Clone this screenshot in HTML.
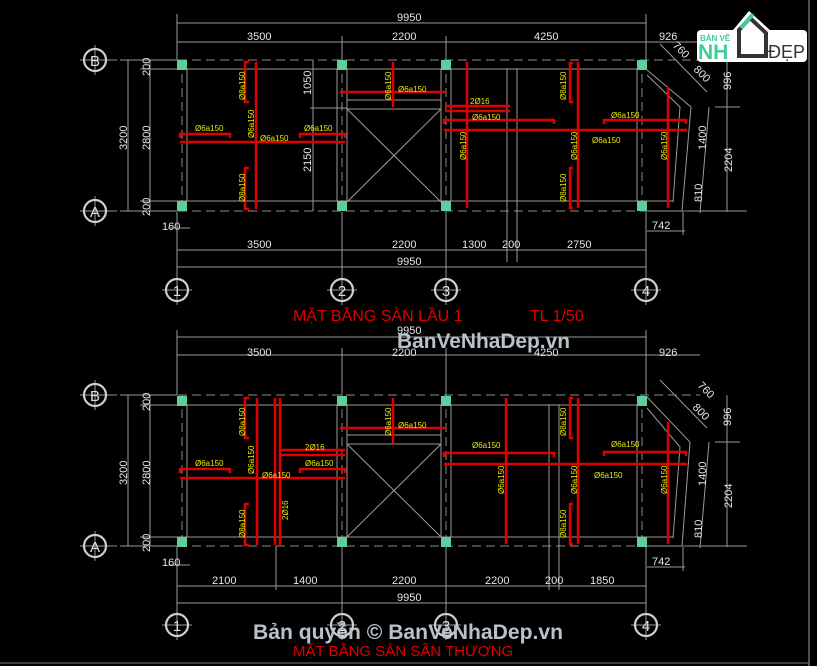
<!DOCTYPE html>
<html><head><meta charset="utf-8"><style>
html,body{margin:0;padding:0;background:#000;}
svg{display:block;}
text{font-family:"Liberation Sans",sans-serif;}
.d{fill:#e6e6e6;font-size:11px;}
.y{fill:#e8e800;font-size:8px;}
.g{stroke:#9a9a9a;stroke-width:1;fill:none;}
.dash{stroke:#8a8a8a;stroke-width:1;stroke-dasharray:9 5;fill:none;}
.r{stroke:#e00000;stroke-width:2.5;fill:none;}
.col{fill:#5ad19a;}
.c{fill:none;stroke:#cfcfcf;stroke-width:2.2;}
.ct{fill:#e0e0e0;font-size:15px;text-anchor:middle;}
</style></head><body>
<svg width="817" height="666" viewBox="0 0 817 666" xmlns="http://www.w3.org/2000/svg">
<rect width="817" height="666" fill="#000"/>
<line x1="809" y1="0" x2="809" y2="666" stroke="#9a9a9a"/>
<line x1="0" y1="663" x2="809" y2="663" stroke="#777"/>

<!-- ============ TOP PLAN ============ -->
<g id="top">
<g class="g">
<line x1="177" y1="23" x2="646" y2="23"/><line x1="177" y1="42" x2="700" y2="42"/>
<line x1="177" y1="14" x2="177" y2="60"/><line x1="342" y1="36" x2="342" y2="60"/>
<line x1="446" y1="36" x2="446" y2="60"/><line x1="646" y1="14" x2="646" y2="60"/>
<line x1="712" y1="36" x2="712" y2="48"/>
<line x1="660" y1="44" x2="707" y2="92"/>
</g>
<text class="d" x="397" y="21">9950</text>
<text class="d" x="247" y="40">3500</text><text class="d" x="392" y="40">2200</text>
<text class="d" x="534" y="40">4250</text><text class="d" x="659" y="40">926</text>
<text class="d" transform="translate(672,46) rotate(45)">760</text>
<text class="d" transform="translate(693,70) rotate(45)">800</text>
<line class="dash" x1="108" y1="60" x2="700" y2="60"/>
<line class="dash" x1="108" y1="211" x2="750" y2="211"/>
<line class="dash" x1="182" y1="60" x2="182" y2="211"/>
<line class="dash" x1="342" y1="60" x2="342" y2="211"/>
<line class="dash" x1="446" y1="60" x2="446" y2="211"/>
<line class="dash" x1="642" y1="60" x2="642" y2="211"/>
<g class="g">
<line x1="140" y1="69" x2="647" y2="69"/><line x1="140" y1="201" x2="673" y2="201"/>
<line x1="187" y1="69" x2="187" y2="201"/>
<line x1="337" y1="69" x2="337" y2="201"/><line x1="347" y1="69" x2="347" y2="201"/>
<line x1="441" y1="69" x2="441" y2="201"/><line x1="451" y1="69" x2="451" y2="201"/>
<line x1="637" y1="69" x2="637" y2="201"/>
<line x1="507" y1="69" x2="507" y2="262"/><line x1="517" y1="69" x2="517" y2="262"/>
<polyline points="647,70 691,107 682,211 647,211"/>
<polyline points="647,75 680,107 673,202"/>
<line x1="347" y1="100" x2="441" y2="100"/><line x1="347" y1="109" x2="441" y2="109"/>
<line x1="347" y1="109" x2="441" y2="202"/><line x1="441" y1="109" x2="347" y2="202"/>
<line x1="310" y1="108" x2="347" y2="108"/>
<line x1="313" y1="60" x2="313" y2="211"/>
</g>
<g class="g">
<line x1="128" y1="60" x2="128" y2="211"/><line x1="150" y1="60" x2="150" y2="211"/>
<line x1="120" y1="60" x2="177" y2="60"/><line x1="120" y1="211" x2="177" y2="211"/>
<line x1="140" y1="69" x2="180" y2="69"/><line x1="140" y1="201" x2="180" y2="201"/>
</g>
<text class="d" transform="translate(127,150) rotate(-90)">3200</text>
<text class="d" transform="translate(150,150) rotate(-90)">2800</text>
<text class="d" transform="translate(150,76) rotate(-90)">200</text>
<text class="d" transform="translate(150,216) rotate(-90)">200</text>
<text class="d" transform="translate(311,95) rotate(-90)">1050</text>
<text class="d" transform="translate(311,172) rotate(-90)">2150</text>
<g class="g">
<line x1="727" y1="60" x2="727" y2="212"/><line x1="715" y1="107" x2="740" y2="107"/>
<line x1="690" y1="211" x2="745" y2="211"/>
<line x1="709" y1="107" x2="700" y2="213"/>
<line x1="647" y1="231" x2="685" y2="231"/>
<line x1="683" y1="212" x2="683" y2="235"/>
</g>
<text class="d" transform="translate(731,90) rotate(-90)">996</text>
<text class="d" transform="translate(706,150) rotate(-90)">1400</text>
<text class="d" transform="translate(732,172) rotate(-90)">2204</text>
<text class="d" transform="translate(702,202) rotate(-90)">810</text>
<text class="d" x="652" y="229">742</text>
<text class="d" x="162" y="230">160</text>
<g class="g">
<line x1="177" y1="250" x2="646" y2="250"/><line x1="177" y1="267" x2="646" y2="267"/>
<line x1="177" y1="212" x2="177" y2="280"/><line x1="342" y1="212" x2="342" y2="280"/>
<line x1="446" y1="212" x2="446" y2="280"/><line x1="646" y1="212" x2="646" y2="280"/>
<line x1="168" y1="228" x2="190" y2="228"/>
</g>
<text class="d" x="247" y="248">3500</text><text class="d" x="392" y="248">2200</text>
<text class="d" x="462" y="248">1300</text><text class="d" x="502" y="248">200</text>
<text class="d" x="567" y="248">2750</text><text class="d" x="397" y="265">9950</text>
<g class="col">
<rect x="177" y="60" width="10" height="10"/><rect x="337" y="60" width="10" height="10"/>
<rect x="441" y="60" width="10" height="10"/><rect x="637" y="60" width="10" height="10"/>
<rect x="177" y="201" width="10" height="10"/><rect x="337" y="201" width="10" height="10"/>
<rect x="441" y="201" width="10" height="10"/><rect x="637" y="201" width="10" height="10"/>
</g>
<g class="r">
<line x1="256" y1="62" x2="256" y2="209"/>
<polyline points="249,62 245,62 245,102 249,102"/><polyline points="249,168 245,168 245,209 249,209"/>
<line x1="180" y1="142" x2="345" y2="142"/>
<polyline points="180,138 180,134 230,134 230,138"/><polyline points="300,138 300,134 345,134 345,138"/>
<line x1="340" y1="92" x2="446" y2="92"/><line x1="393" y1="62" x2="393" y2="107"/>
<line x1="445" y1="106" x2="510" y2="106"/><line x1="445" y1="111" x2="510" y2="111"/>
<polyline points="444,124 444,120 554,120 554,124"/>
<line x1="444" y1="130" x2="687" y2="130"/>
<polyline points="604,124 604,120 686,120 686,124"/>
<line x1="467" y1="62" x2="467" y2="208"/>
<line x1="578" y1="62" x2="578" y2="208"/>
<polyline points="573,63 570,63 570,102 573,102"/><polyline points="573,168 570,168 570,208 573,208"/>
<line x1="668" y1="87" x2="668" y2="208"/>
</g>
<g class="y">
<text transform="translate(245,100) rotate(-90)">Ø8a150</text>
<text transform="translate(254,138) rotate(-90)">Ø6a150</text>
<text x="195" y="131">Ø6a150</text><text x="260" y="141">Ø6a150</text><text x="304" y="131">Ø6a150</text>
<text transform="translate(245,202) rotate(-90)">Ø8a150</text>
<text transform="translate(391,100) rotate(-90)">Ø6a150</text><text x="398" y="92">Ø6a150</text>
<text x="470" y="104">2Ø16</text><text x="472" y="120">Ø6a150</text>
<text transform="translate(466,160) rotate(-90)">Ø6a150</text>
<text transform="translate(566,100) rotate(-90)">Ø8a150</text>
<text transform="translate(577,160) rotate(-90)">Ø6a150</text>
<text transform="translate(566,202) rotate(-90)">Ø8a150</text>
<text x="611" y="118">Ø6a150</text><text x="592" y="143">Ø6a150</text>
<text transform="translate(667,160) rotate(-90)">Ø6a150</text>
</g>
<g class="g"><line x1="80" y1="60" x2="110" y2="60"/><line x1="95" y1="45" x2="95" y2="75"/>
<line x1="80" y1="211" x2="110" y2="211"/><line x1="95" y1="196" x2="95" y2="226"/>
<line x1="162" y1="290" x2="192" y2="290"/><line x1="177" y1="275" x2="177" y2="305"/>
<line x1="327" y1="290" x2="357" y2="290"/><line x1="342" y1="275" x2="342" y2="305"/>
<line x1="431" y1="290" x2="461" y2="290"/><line x1="446" y1="275" x2="446" y2="305"/>
<line x1="631" y1="290" x2="661" y2="290"/><line x1="646" y1="275" x2="646" y2="305"/></g>
<circle class="c" cx="95" cy="60" r="11"/><text class="ct" x="95" y="66">B</text>
<circle class="c" cx="95" cy="211" r="11"/><text class="ct" x="95" y="217">A</text>
<circle class="c" cx="177" cy="290" r="11"/><text class="ct" x="177" y="296">1</text>
<circle class="c" cx="342" cy="290" r="11"/><text class="ct" x="342" y="296">2</text>
<circle class="c" cx="446" cy="290" r="11"/><text class="ct" x="446" y="296">3</text>
<circle class="c" cx="646" cy="290" r="11"/><text class="ct" x="646" y="296">4</text>
<text x="293" y="321" fill="#e00000" font-size="16">MẶT BẰNG SÀN LẦU 1</text>
<text x="530" y="321" fill="#e00000" font-size="16">TL 1/50</text>
</g>

<!-- ============ BOTTOM PLAN ============ -->
<g>
<g class="g">
<line x1="177" y1="337" x2="646" y2="337"/><line x1="177" y1="355" x2="700" y2="355"/>
<line x1="177" y1="330" x2="177" y2="395"/><line x1="342" y1="348" x2="342" y2="395"/>
<line x1="446" y1="348" x2="446" y2="395"/><line x1="646" y1="330" x2="646" y2="395"/>
<line x1="660" y1="380" x2="707" y2="428"/>
</g>
<text class="d" x="397" y="334">9950</text>
<text class="d" x="247" y="356">3500</text><text class="d" x="392" y="356">2200</text>
<text class="d" x="534" y="356">4250</text><text class="d" x="659" y="356">926</text>
<text class="d" transform="translate(697,386) rotate(45)">760</text>
<text class="d" transform="translate(692,408) rotate(45)">800</text>
<line class="dash" x1="108" y1="395" x2="700" y2="395"/>
<line class="dash" x1="108" y1="546" x2="750" y2="546"/>
<line class="dash" x1="182" y1="395" x2="182" y2="546"/>
<line class="dash" x1="342" y1="395" x2="342" y2="546"/>
<line class="dash" x1="446" y1="395" x2="446" y2="546"/>
<line class="dash" x1="642" y1="395" x2="642" y2="546"/>
<g class="g">
<line x1="140" y1="405" x2="647" y2="405"/><line x1="140" y1="537" x2="673" y2="537"/>
<line x1="187" y1="405" x2="187" y2="537"/>
<line x1="337" y1="405" x2="337" y2="537"/><line x1="347" y1="405" x2="347" y2="537"/>
<line x1="441" y1="405" x2="441" y2="537"/><line x1="451" y1="405" x2="451" y2="537"/>
<line x1="637" y1="405" x2="637" y2="537"/>
<line x1="549" y1="405" x2="549" y2="590"/><line x1="559" y1="405" x2="559" y2="590"/>
<line x1="276" y1="546" x2="276" y2="590"/>
<polyline points="647,397 690,442 682,546 647,546"/>
<polyline points="647,408 680,447 673,538"/>
<line x1="347" y1="435" x2="441" y2="435"/><line x1="347" y1="444" x2="441" y2="444"/>
<line x1="347" y1="444" x2="441" y2="537"/><line x1="441" y1="444" x2="347" y2="537"/>
<line x1="128" y1="395" x2="128" y2="546"/><line x1="150" y1="395" x2="150" y2="546"/>
<line x1="120" y1="395" x2="177" y2="395"/><line x1="120" y1="546" x2="177" y2="546"/>
<line x1="727" y1="395" x2="727" y2="547"/><line x1="715" y1="442" x2="740" y2="442"/>
<line x1="690" y1="546" x2="745" y2="546"/>
<line x1="709" y1="442" x2="700" y2="548"/>
<line x1="647" y1="567" x2="685" y2="567"/><line x1="683" y1="547" x2="683" y2="571"/>
<line x1="177" y1="586" x2="646" y2="586"/><line x1="177" y1="603" x2="646" y2="603"/>
<line x1="177" y1="547" x2="177" y2="612"/><line x1="342" y1="547" x2="342" y2="612"/>
<line x1="446" y1="547" x2="446" y2="612"/><line x1="646" y1="547" x2="646" y2="612"/>
<line x1="168" y1="565" x2="190" y2="565"/>
</g>
<text class="d" transform="translate(127,485) rotate(-90)">3200</text>
<text class="d" transform="translate(150,485) rotate(-90)">2800</text>
<text class="d" transform="translate(150,411) rotate(-90)">200</text>
<text class="d" transform="translate(150,552) rotate(-90)">200</text>
<text class="d" transform="translate(731,426) rotate(-90)">996</text>
<text class="d" transform="translate(706,486) rotate(-90)">1400</text>
<text class="d" transform="translate(732,508) rotate(-90)">2204</text>
<text class="d" transform="translate(702,538) rotate(-90)">810</text>
<text class="d" x="652" y="565">742</text><text class="d" x="162" y="566">160</text>
<text class="d" x="212" y="584">2100</text><text class="d" x="293" y="584">1400</text>
<text class="d" x="392" y="584">2200</text><text class="d" x="485" y="584">2200</text>
<text class="d" x="545" y="584">200</text><text class="d" x="590" y="584">1850</text>
<text class="d" x="397" y="601">9950</text>
<g class="col">
<rect x="177" y="396" width="10" height="10"/><rect x="337" y="396" width="10" height="10"/>
<rect x="441" y="396" width="10" height="10"/><rect x="637" y="396" width="10" height="10"/>
<rect x="177" y="537" width="10" height="10"/><rect x="337" y="537" width="10" height="10"/>
<rect x="441" y="537" width="10" height="10"/><rect x="637" y="537" width="10" height="10"/>
</g>
<g class="r">
<line x1="257" y1="398" x2="257" y2="545"/>
<line x1="275" y1="398" x2="275" y2="545"/><line x1="280" y1="398" x2="280" y2="545"/>
<polyline points="249,398 245,398 245,438 249,438"/><polyline points="249,504 245,504 245,545 249,545"/>
<line x1="180" y1="478" x2="345" y2="478"/>
<polyline points="180,473 180,469 230,469 230,473"/><polyline points="300,473 300,469 345,469 345,473"/>
<line x1="279" y1="450" x2="345" y2="450"/><line x1="279" y1="455" x2="345" y2="455"/>
<line x1="340" y1="428" x2="446" y2="428"/><line x1="393" y1="398" x2="393" y2="443"/>
<polyline points="444,457 444,453 554,453 554,457"/>
<line x1="444" y1="464" x2="687" y2="464"/>
<polyline points="604,456 604,452 686,452 686,456"/>
<line x1="506" y1="398" x2="506" y2="544"/>
<line x1="578" y1="398" x2="578" y2="544"/>
<polyline points="573,398 570,398 570,438 573,438"/><polyline points="573,504 570,504 570,544 573,544"/>
<line x1="668" y1="422" x2="668" y2="544"/>
</g>
<g class="y">
<text transform="translate(245,436) rotate(-90)">Ø8a150</text>
<text transform="translate(254,474) rotate(-90)">Ø6a150</text>
<text x="195" y="466">Ø6a150</text><text x="262" y="478">Ø6a150</text><text x="305" y="466">Ø6a150</text>
<text x="305" y="450">2Ø16</text>
<text transform="translate(288,520) rotate(-90)">2Ø16</text>
<text transform="translate(245,538) rotate(-90)">Ø8a150</text>
<text transform="translate(391,436) rotate(-90)">Ø6a150</text><text x="398" y="428">Ø6a150</text>
<text x="472" y="448">Ø6a150</text>
<text transform="translate(504,494) rotate(-90)">Ø6a150</text>
<text transform="translate(566,436) rotate(-90)">Ø8a150</text>
<text transform="translate(577,494) rotate(-90)">Ø6a150</text>
<text transform="translate(566,538) rotate(-90)">Ø8a150</text>
<text x="611" y="447">Ø6a150</text><text x="594" y="478">Ø6a150</text>
<text transform="translate(667,494) rotate(-90)">Ø6a150</text>
</g>
<g class="g"><line x1="80" y1="395" x2="110" y2="395"/><line x1="95" y1="380" x2="95" y2="410"/>
<line x1="80" y1="546" x2="110" y2="546"/><line x1="95" y1="531" x2="95" y2="561"/>
<line x1="162" y1="625" x2="192" y2="625"/><line x1="177" y1="610" x2="177" y2="640"/>
<line x1="327" y1="625" x2="357" y2="625"/><line x1="342" y1="610" x2="342" y2="640"/>
<line x1="431" y1="625" x2="461" y2="625"/><line x1="446" y1="610" x2="446" y2="640"/>
<line x1="631" y1="625" x2="661" y2="625"/><line x1="646" y1="610" x2="646" y2="640"/></g>
<circle class="c" cx="95" cy="395" r="11"/><text class="ct" x="95" y="401">B</text>
<circle class="c" cx="95" cy="546" r="11"/><text class="ct" x="95" y="552">A</text>
<circle class="c" cx="177" cy="625" r="11"/><text class="ct" x="177" y="631">1</text>
<circle class="c" cx="342" cy="625" r="11"/><text class="ct" x="342" y="631">2</text>
<circle class="c" cx="446" cy="625" r="11"/><text class="ct" x="446" y="631">3</text>
<circle class="c" cx="646" cy="625" r="11"/><text class="ct" x="646" y="631">4</text>
<text x="293" y="656" fill="#e00000" font-size="15">MẶT BẰNG SÀN SÂN THƯỢNG</text>
</g>

<text x="397" y="348" fill="#b9c2c8" font-size="21" font-weight="bold" textLength="173" lengthAdjust="spacingAndGlyphs">BanVeNhaDep.vn</text>
<text x="253" y="639" fill="#b9c2c8" font-size="21" font-weight="bold" textLength="310" lengthAdjust="spacingAndGlyphs">Bản quyền © BanVeNhaDep.vn</text>

<g>
<rect x="697" y="30" width="110" height="32" rx="4" fill="#fff"/>
<polygon points="733,30 749,11 772,32 772,60 733,60" fill="#fff"/>
<polygon points="739,30 750,18 766,33 766,56 739,56" fill="none" stroke="#333" stroke-width="4"/>
<line x1="741" y1="28" x2="753" y2="14" stroke="#3ecf95" stroke-width="4"/>
<text x="700" y="41" fill="#3ecf95" font-size="8" font-weight="bold">BẢN VẼ</text>
<text x="698" y="59" fill="#3ecf95" font-size="21" font-weight="bold">NH</text>
<text x="768" y="58" fill="#333" font-size="18">ĐẸP</text>
</g>
</svg>
</body></html>
